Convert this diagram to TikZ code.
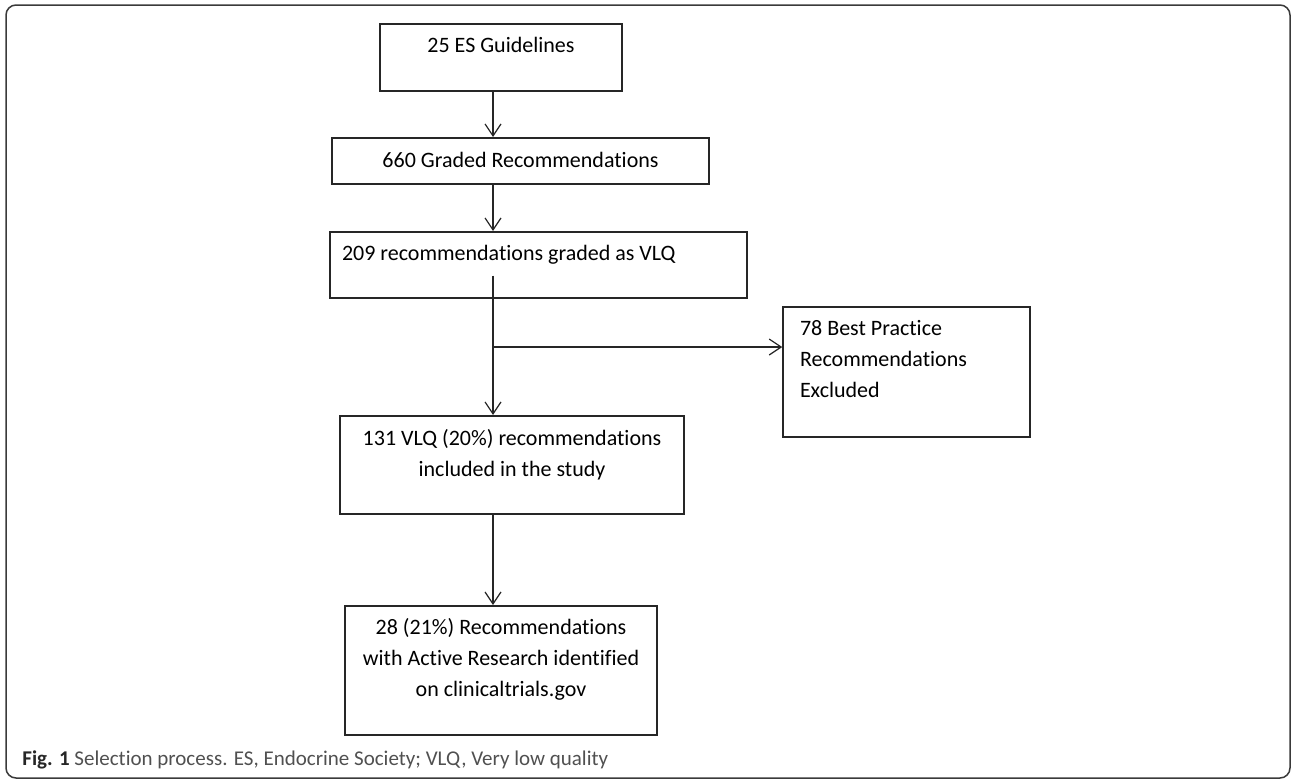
\documentclass[tikz,border=0pt]{standalone}
\usepackage{fontspec}
\setmainfont{Carlito}[Ligatures=NoCommon]
\definecolor{flujoTinta}{HTML}{262626}
\definecolor{flujoMarco}{HTML}{3A3A3A}
\definecolor{flujoLeyenda}{HTML}{505050}
\usetikzlibrary{
	arrows.meta,
	calc
}
\tikzset{
	caja/.style={
		draw=flujoTinta,
		line width=0.75pt,
		inner xsep=6pt,
		inner ysep=0pt,
		align=center,
		anchor=north,
		font=\fontsize{11}{15.5}\selectfont
	},
	flecha/.style={
		-{Straight Barb[length=6pt,width=8pt]},
		line width=0.6pt,
		flujoTinta
	},
	marco/.style={
		draw=flujoMarco,
		line width=0.75pt,
		rounded corners=5pt
	},
	leyenda/.style={
		anchor=west,
		inner sep=0pt,
		text=flujoLeyenda,
		font=\fontsize{10.5}{12}\selectfont
	}
}

\begin{document}
\begin{tikzpicture}[x=0.5pt,y=-0.5pt]
		\useasboundingbox (0,0) rectangle (1292,782);
		\draw[marco] (6,5) rectangle (1290,778);
		\coordinate (eje) at (493,0);
		\coordinate (rama) at (493,347);
		\node[caja, minimum width=121pt, text height=14.5pt, text depth=19pt] (guias) at (501,23) {25 ES Guidelines};
		\node[caja, minimum width=188.5pt, text height=15pt, text depth=8pt] (graduadas) at (520.5,137) {660 Graded Recommendations};
		\node[caja, text width=196.5pt, align=flush left, text height=14.5pt, text depth=18.5pt] (vlq) at (538.5,231) {209 recommendations graded as VLQ};
		\node[caja, minimum width=172pt, text height=30.5pt, text depth=18.5pt] (incluidas) at (512,415) {131 VLQ (20\%) recommendations\\included in the study};
		\node[caja, text width=106.5pt, inner xsep=8.5pt, align=flush left, text height=14.5pt, text depth=50.5pt] (excluidas) at (906.5,306) {78 Best Practice\\Recommendations\\Excluded};
		\node[caja, minimum width=156pt, text height=45.5pt, text depth=19pt] (activas) at (501,605) {28 (21\%) Recommendations\\with Active Research identified\\on clinicaltrials.gov};
		\draw[flecha] (guias.south -| eje) -- (graduadas.north -| eje);
		\draw[flecha] (graduadas.south -| eje) -- (vlq.north -| eje);
		\draw[flecha] ($(vlq.south -| eje)+(0,-23)$) -- (incluidas.north -| eje);
		\draw[flecha] (rama) -- (rama -| excluidas.west);
		\draw[flecha] (incluidas.south -| eje) -- (activas.north -| eje);
		\node[leyenda] (pie) at (22,760) {{\color{flujoTinta}\textbf{Fig. 1}} Selection process. ES, Endocrine Society; VLQ, Very low quality};
	\end{tikzpicture}
\end{document}
